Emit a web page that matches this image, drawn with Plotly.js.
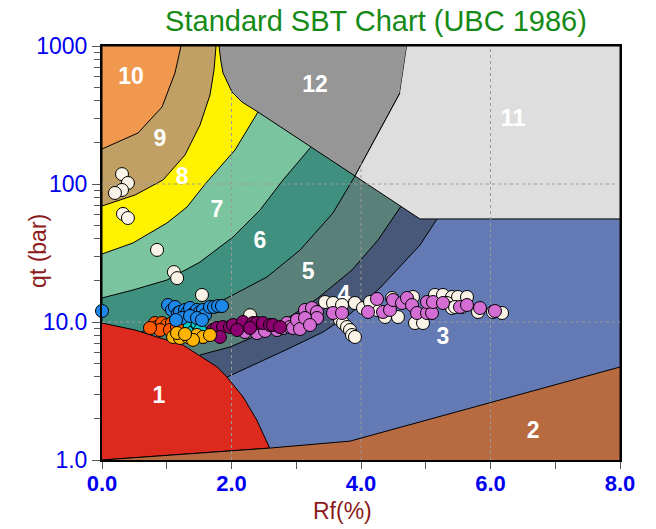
<!DOCTYPE html>
<html>
<head>
<meta charset="utf-8">
<script src="https://cdn.plot.ly/plotly-3.0.1.min.js"></script>
<style>html,body{margin:0;padding:0;background:#fff;}</style>
</head>
<body>
<div id="chart" style="width:656px;height:529px;"></div>
<script>
// ---------- Zone boundary curves (Rf %, qt bar) ----------
const b1x = [0, 0.51, 0.85, 1.25, 1.78, 1.93, 2.18, 2.39, 2.59];          // zone 1 upper edge
const b1y = [9.83, 8.75, 7.78, 6.81, 4.72, 3.99, 2.86, 1.95, 1.22];
const b2x = [0, 2.59, 3.83, 8];                                           // zone 2 upper edge
const b2y = [1, 1.22, 1.37, 4.72];
const b43x = [1.931, 2.44, 2.903, 3.413, 3.83, 4.293, 4.556, 4.911, 5.174, 5.297];
const b43y = [3.99, 5.13, 6.48, 8.46, 11.43, 17.63, 23.8, 36.1, 55.8, 70.4];
const b54x = [1.514, 1.977, 2.409, 2.826, 3.336, 3.861, 4.263, 4.602, 4.788];
const b54y = [5.77, 6.59, 8.05, 10.34, 14.93, 23.8, 39.3, 68.1, 90.5];
const b65x = [0.60, 0.85, 1.127, 1.359, 1.622, 2.023, 2.548, 3.058, 3.568, 3.907];
const b65y = [8.45, 9.20, 10.17, 11.24, 12.63, 15.70, 21.2, 33.2, 61.7, 114.3];
const b76x = [0, 0.479, 1.004, 1.514, 2.023, 2.44, 2.795, 3.228, 3.367];
const b76y = [14.93, 17.06, 20.15, 27.2, 41.3, 64.8, 106.9, 185.5, 226.5];
const b87x = [0, 0.479, 1.004, 1.313, 1.606, 2.054, 2.409, 2.55];
const b87y = [31.1, 37.4, 52.2, 68.1, 101.7, 176.4, 332.4, 420];
const b98x = [0, 0.510, 0.942, 1.282, 1.514, 1.668, 1.730, 1.761];
const b98y = [69.3, 83.2, 106.9, 162.3, 267.7, 441.6, 670, 1000];
const b109x = [0, 0.556, 0.927, 1.019, 1.127, 1.220];
const b109y = [179.3, 234.2, 361.4, 464.2, 637.5, 1000];
const z12x = [1.807, 4.710, 4.602, 3.907, 2.409, 2.162, 2.008, 1.869, 1.838, 1.807];
const z12y = [1000, 1000, 456.4, 114.3, 332.4, 392.8, 464.2, 637.5, 765.6, 1000];
const z11x = [4.710, 8, 8, 4.911, 3.907, 4.602];
const z11y = [1000, 1000, 55.8, 55.8, 114.3, 456.4];

const zoneColors = {
  1: '#dc2a1e', 2: '#b86a40', 3: '#647ab4', 4: '#485878', 5: '#5a807a', 6: '#409080',
  7: '#7ac4a0', 8: '#fff200', 9: '#c0a064', 10: '#f0984e', 11: '#dedede', 12: '#969696'
};

const zoneLabels = ['1', '2', '3', '4', '5', '6', '7', '8', '9', '10', '11', '12'];
const zoneLabelX = [0.88, 6.657, 5.266, 3.737, 3.182, 2.44, 1.776, 1.236, 0.896, 0.448, 6.348, 3.29];
const zoneLabelY = [2.86, 1.60, 7.66, 15.4, 22.7, 38.0, 63.7, 110, 208, 586, 291, 513];

// ---------- CPT data points ----------
const creamX = [0.309, 0.40, 0.309, 0.20, 0.324, 0.40, 0.85, 1.11, 1.16, 1.544, 2.286,
  3.444, 3.568, 3.707, 3.907, 4.031, 4.247, 4.371, 4.571, 3.676, 3.722, 3.784, 3.830, 3.861, 3.907,
  4.479, 4.803, 4.834, 4.958, 5.143, 5.266, 5.405, 5.498, 5.637, 5.328, 5.405, 5.452, 5.560, 5.807,
  6.039, 6.178, 4.139];
const creamY = [118, 101.7, 90.5, 86.1, 60.7, 56.7, 33.3, 23.0, 20.8, 15.7, 11.2,
  13.96, 13.73, 13.28, 13.73, 12.63, 12.22, 10.87, 10.87, 10.34, 9.83, 9.20, 8.75, 8.05, 7.79,
  14.93, 15.18, 9.83, 9.83, 15.70, 15.70, 15.18, 15.18, 15.18, 13.73, 12.63, 12.85, 12.85, 11.82,
  11.82, 11.62, 13.96];
const violetX = [2.208, 2.394, 2.518, 2.703, 2.795, 2.857, 2.903, 2.950, 3.012, 3.058, 3.135, 3.181,
  3.243, 3.320, 3.320, 3.568, 3.707, 4.108, 4.247, 4.340, 4.448, 4.494, 4.633, 4.710, 4.788, 4.865,
  5.019, 5.097, 5.019, 5.112, 5.266, 5.529, 5.637, 5.838, 6.069, 3.135, 3.212];
const violetY = [8.46, 8.32, 8.61, 8.75, 9.05, 9.83, 9.20, 9.05, 10.34, 8.90, 12.22, 10.69,
  12.63, 11.82, 10.69, 11.62, 11.62, 11.82, 14.68, 11.82, 12.22, 14.43, 13.73, 14.93, 13.28, 11.62,
  11.62, 11.62, 13.96, 13.96, 13.73, 12.85, 13.28, 12.63, 12.02, 10.69, 9.51];
const purpleX = [1.560, 1.668, 1.714, 1.776, 1.869, 1.977, 2.023, 2.178, 2.178, 2.332, 2.394, 2.486,
  2.595, 2.641, 2.749, 1.822, 2.085, 2.286];
const purpleY = [7.79, 8.32, 8.75, 9.05, 9.20, 9.20, 9.51, 9.51, 10.0, 9.83, 9.83, 9.83,
  9.51, 9.51, 9.20, 7.79, 8.75, 9.05];
const cyanX = [1.158, 1.251, 1.359, 1.467, 1.313, 1.514, 1.205, 1.282];
const cyanY = [9.83, 9.20, 9.51, 9.83, 8.46, 8.75, 8.75, 10.0];
const redOrangeX = [0.819, 0.849, 0.927, 1.004, 1.081, 0.896, 1.050, 1.158, 0.741];
const redOrangeY = [9.83, 9.20, 9.83, 9.51, 9.83, 8.75, 8.75, 9.20, 9.05];
const goldX = [1.097, 1.205, 1.328, 1.467, 1.560, 1.668, 1.158, 1.405, 1.282];
const goldY = [7.79, 7.66, 7.79, 8.05, 7.79, 8.05, 8.32, 7.42, 8.18];
const blueX = [0.0, 1.019, 1.081, 1.127, 1.174, 1.205, 1.282, 1.313, 1.359, 1.405, 1.467, 1.514, 1.560,
  1.591, 1.668, 1.730, 1.792, 1.853, 1.236, 1.359, 1.467, 1.544, 1.143];
const blueY = [12.02, 13.28, 12.22, 12.85, 11.62, 11.82, 12.22, 11.62, 12.63, 11.43, 12.22, 11.82, 12.22,
  11.24, 12.85, 12.85, 13.06, 13.06, 10.69, 11.05, 10.69, 10.34, 10.34];

// ---------- Axes ----------
const xRange = [0, 8];
const yRange = [1, 1000];
const xTickVals = [0, 2, 4, 6, 8];
const xTickText = ['0.0', '2.0', '4.0', '6.0', '8.0'];
const xMinorVals = [1, 3, 5, 7];
const yTickVals = [1, 10, 100, 1000];
const yTickText = ['1.0', '10.0', '100', '1000'];
const yMinorVals = [2, 3, 4, 5, 6, 7, 8, 9, 20, 30, 40, 50, 60, 70, 80, 90, 200, 300, 400, 500, 600, 700, 800, 900];

const FONT = 'Arial, "Liberation Sans", sans-serif';

function poly(x, y, color) {
  return {x: x, y: y, mode: 'lines', fill: 'toself', fillcolor: color,
    line: {color: 'black', width: 1}, hoverinfo: 'skip', showlegend: false};
}
// zone lying above/left of an arc
function arcZone(bx, by, color) {
  const x = bx.concat([bx[bx.length - 1], xRange[0], xRange[0]]);
  const y = by.concat([yRange[1], yRange[1], by[0]]);
  return poly(x, y, color);
}

const traces = [];
traces.push(poly([xRange[0], xRange[1], xRange[1], xRange[0]], [yRange[0], yRange[0], yRange[1], yRange[1]], zoneColors[3]));
traces.push(arcZone(b43x, b43y, zoneColors[4]));
traces.push(arcZone(b54x, b54y, zoneColors[5]));
traces.push(arcZone(b65x, b65y, zoneColors[6]));
traces.push(arcZone(b76x, b76y, zoneColors[7]));
traces.push(arcZone(b87x, b87y, zoneColors[8]));
traces.push(arcZone(b98x, b98y, zoneColors[9]));
traces.push(arcZone(b109x, b109y, zoneColors[10]));
traces.push(poly(z12x, z12y, zoneColors[12]));
traces.push(poly(z11x, z11y, zoneColors[11]));
// zone 1: arc down to the zone-2 line, then back along it
const z1x = b1x.concat(b2x.slice(0, 2).reverse());
const z1y = b1y.concat(b2y.slice(0, 2).reverse());
traces.push(poly(z1x, z1y, zoneColors[1]));
traces.push(poly(b2x.concat([xRange[1]]), b2y.concat([yRange[0]]), zoneColors[2]));

// dotted grid drawn over the zones
xTickVals.slice(1, -1).forEach(function (g) {
  traces.push({x: [g, g], y: yRange, mode: 'lines', line: {color: '#9a9a9a', width: 1, dash: 'dot'}, hoverinfo: 'skip', showlegend: false});
});
yTickVals.slice(1, -1).forEach(function (g) {
  traces.push({x: xRange, y: [g, g], mode: 'lines', line: {color: '#9a9a9a', width: 1, dash: 'dot'}, hoverinfo: 'skip', showlegend: false});
});

// zone numbers
traces.push({x: zoneLabelX, y: zoneLabelY, text: zoneLabels, mode: 'text', textposition: 'middle center',
  textfont: {family: FONT, size: 23, color: 'white', weight: 'bold'}, hoverinfo: 'skip', showlegend: false});

function pts(x, y, color, name) {
  return {x: x, y: y, name: name, mode: 'markers', cliponaxis: false,
    marker: {size: 13, color: color, line: {color: 'black', width: 1}}, showlegend: false};
}
traces.push(pts(creamX, creamY, '#faf3e8', 'A'));
traces.push(pts(violetX, violetY, '#d46ed4', 'B'));
traces.push(pts(purpleX, purpleY, '#8c0070', 'C'));
traces.push(pts(cyanX, cyanY, '#00cccc', 'D'));
traces.push(pts(redOrangeX, redOrangeY, '#ff5a00', 'E'));
traces.push(pts(goldX, goldY, '#ffb400', 'F'));
traces.push(pts(blueX, blueY, '#1e88ea', 'G'));

const layout = {
  width: 656, height: 529,
  margin: {l: 102, r: 36, t: 46, b: 69},
  paper_bgcolor: 'white', plot_bgcolor: 'white',
  showlegend: false,
  font: {family: FONT},
  title: {text: 'Standard SBT Chart (UBC 1986)', font: {family: FONT, size: 29, color: '#168a16'},
    x: 376 / 656, xanchor: 'center', xref: 'container', y: 1 - 21 / 529, yanchor: 'middle', yref: 'container'},
  xaxis: {range: xRange, tickmode: 'array', tickvals: xTickVals, ticktext: xTickText,
    ticks: 'outside', ticklen: 7, tickwidth: 1, tickcolor: '#555', ticklabelstandoff: -4,
    tickfont: {family: FONT, size: 22, color: '#0000ee', weight: 'bold'},
    minor: {tickmode: 'array', tickvals: xMinorVals, ticks: 'outside', ticklen: 7, tickcolor: '#555', showgrid: false},
    showline: true, linecolor: 'black', linewidth: 2, mirror: true, showgrid: false, zeroline: false},
  yaxis: {type: 'log', range: [Math.log10(yRange[0]), Math.log10(yRange[1])], tickmode: 'array',
    tickvals: yTickVals, ticktext: yTickText,
    ticks: 'outside', ticklen: 8, tickwidth: 1, tickcolor: '#555',
    tickfont: {family: FONT, size: 23, color: '#0000ee'},
    minor: {tickmode: 'array', tickvals: yMinorVals, ticks: 'outside', ticklen: 6, tickcolor: '#555', showgrid: false},
    showline: true, linecolor: 'black', linewidth: 2, mirror: true, showgrid: false, zeroline: false},
  annotations: [
    {text: 'Rf(%)', xref: 'paper', yref: 'paper', x: 0.465, y: -0.124, xanchor: 'center', yanchor: 'middle',
      showarrow: false, font: {family: FONT, size: 23, color: '#8b1a1a'}},
    {text: 'qt (bar)', xref: 'paper', yref: 'paper', x: -0.1236, y: 0.505, xanchor: 'center', yanchor: 'middle',
      textangle: -90, showarrow: false, font: {family: FONT, size: 23, color: '#8b1a1a'}}
  ]
};

Plotly.newPlot('chart', traces, layout, {displayModeBar: false, staticPlot: true});
</script>
</body>
</html>
